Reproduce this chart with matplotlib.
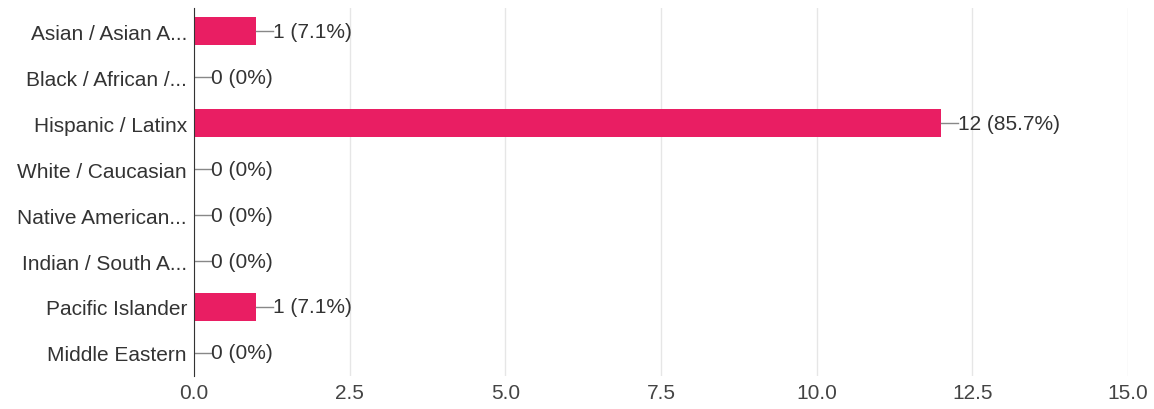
import matplotlib.pyplot as plt

categories = ['Asian / Asian A...', 'Black / African /...', 'Hispanic / Latinx',
              'White / Caucasian', 'Native American...', 'Indian / South A...',
              'Pacific Islander', 'Middle Eastern']
counts = [1, 0, 12, 0, 0, 0, 1, 0]
percents = ['7.1%', '0%', '85.7%', '0%', '0%', '0%', '7.1%', '0%']
xticks = [0.0, 2.5, 5.0, 7.5, 10.0, 12.5, 15.0]

plt.rcParams['font.family'] = ['Liberation Sans', 'DejaVu Sans']

fig = plt.figure(figsize=(11.54, 4.10), dpi=100)
ax = fig.add_axes([0.168, 0.0805, 0.8095, 0.8975])

ypos = list(range(len(categories)))
ax.barh(ypos, counts, height=0.62, color='#e91e63', zorder=3)

# leader line + label
for y, c, p in zip(ypos, counts, percents):
    ax.plot([c, c + 0.27], [y, y], color='#888888', lw=1, zorder=3)
    ax.text(c + 0.27, y, f'{c} ({p})', va='center', ha='left',
            fontsize=15, color='#333333')

ax.set_xlim(0, 15)
ax.set_ylim(len(categories) - 0.5, -0.5)
ax.set_xticks(xticks)
ax.set_xticklabels([f'{t:.1f}' for t in xticks])
ax.set_yticks(ypos)
ax.set_yticklabels(categories)
ax.tick_params(axis='both', length=0, labelsize=15, colors='#333333')
ax.tick_params(axis='x', pad=5, colors='#444444')
ax.tick_params(axis='y', pad=5)

ax.grid(axis='x', color='#e6e6e6', lw=1, zorder=0)
for side in ['top', 'right', 'bottom']:
    ax.spines[side].set_visible(False)
ax.spines['left'].set_color('#333333')
ax.spines['left'].set_zorder(4)

fig.savefig('out.png', dpi=100)
